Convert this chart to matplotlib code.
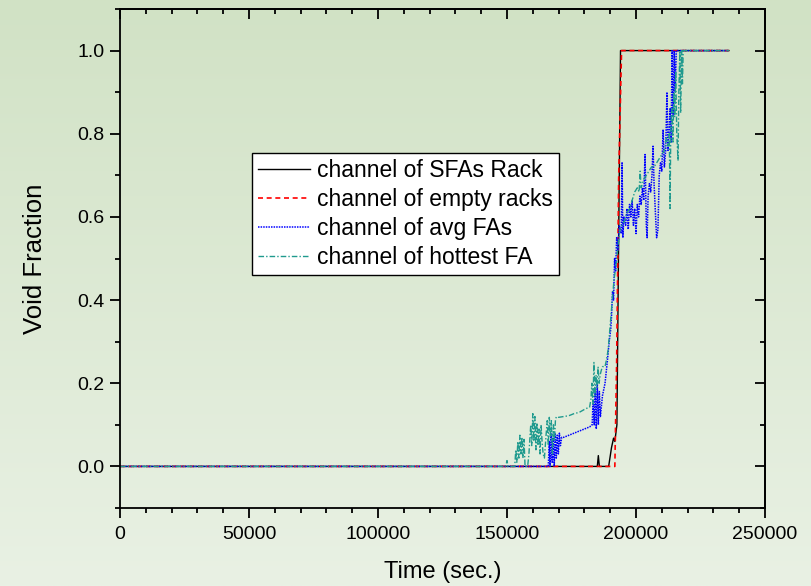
import numpy as np
import matplotlib
matplotlib.use("Agg")
import matplotlib.pyplot as plt
from matplotlib.ticker import MultipleLocator, FixedLocator, FormatStrFormatter

plt.rcParams['font.family'] = ['Liberation Sans', 'DejaVu Sans']

# ---- data ----
sfa_t = [0, 185000, 185400, 185800, 189400, 190500, 191300, 191800, 192600, 193200, 194000, 236000]
sfa_v = [0, 0, 0.026, 0, 0, 0.045, 0.068, 0.06, 0.10, 0.50, 1.0, 1.0]

empty_t = [0, 191800, 192500, 193300, 194400, 236000]
empty_v = [0, 0, 0.25, 0.70, 1.0, 1.0]

avg_t = [0, 166000, 166400, 166700, 167100, 167500, 167900, 168300, 168700, 169100, 169500,
         169900, 170300, 170700, 171200, 172000, 174000, 176000, 178000, 180000, 182000,
         183000, 183400, 183800, 184200, 184600, 185000, 185400, 185800, 186200, 187000,
         188000, 189000, 189600, 190200, 190500, 190900, 191300, 191700, 192100, 192500,
         193000, 193500, 194300, 194600, 194900, 195300, 196000, 196500, 197000, 197500,
         198000, 198500, 199000, 199500, 200000, 200500, 201000, 201500, 202000, 202500,
         203000, 203500, 204000, 204300, 204700, 205200, 205700, 206200, 206600, 207000,
         207600, 208000, 208500, 209000, 209500, 210000, 210500, 211000, 211500, 212000,
         212400, 212800, 213200, 213600, 214000, 214400, 214800, 215200, 215600, 236000]
avg_v = [0, 0, 0.06, 0, 0.08, 0.01, 0.07, 0, 0.08, 0.02, 0.075,
         0.03, 0.08, 0.05, 0.07, 0.07, 0.075, 0.08, 0.085, 0.09, 0.095,
         0.10, 0.16, 0.10, 0.19, 0.09, 0.20, 0.10, 0.18, 0.12, 0.17,
         0.20, 0.26, 0.30, 0.33, 0.36, 0.42, 0.40, 0.50, 0.47, 0.55,
         0.52, 0.58, 0.56, 0.73, 0.55, 0.60, 0.58, 0.62, 0.57, 0.63,
         0.60, 0.64, 0.58, 0.62, 0.56, 0.63, 0.60, 0.65, 0.63, 0.67,
         0.64, 0.75, 0.58, 0.55, 0.65, 0.68, 0.66, 0.70, 0.77, 0.68,
         0.60, 0.55, 0.57, 0.70, 0.73, 0.71, 0.81, 0.72, 0.76, 0.90,
         0.76, 0.80, 0.86, 0.78, 1.0, 0.84, 1.0, 0.90, 1.0, 1.0]

hot_t = [0, 149500, 150000, 150400, 153000, 153400, 153800, 154200, 154600, 155000, 155400,
         155800, 156200, 156600, 157000, 158000, 158500, 159200, 159600, 160000, 160400,
         160800, 161200, 161600, 162000, 162400, 162800, 163200, 163600, 164000, 164500,
         165200, 165600, 166000, 166400, 166800, 167200, 167600, 168000, 168400, 168800,
         169300, 170000, 172000, 174000, 176000, 178000, 180000, 181000, 182000, 182500,
         182900, 183300, 183700, 184100, 184500, 184900, 185300, 185700, 186100, 186500,
         187000, 188000, 188500, 189200, 190000, 190800, 191500, 192200, 193000, 193800,
         194500, 195500, 196500, 197500, 198500, 199500, 200500, 201200, 201600, 202000,
         203000, 204000, 205000, 206000, 207000, 208000, 209000, 210000, 211000, 211800,
         212400, 212900, 213200, 213500, 213900, 214300, 214700, 215000, 215400, 215800,
         216300, 216600, 217000, 217300, 217700, 218000, 218300, 236000]
hot_v = [0, 0, 0.014, 0, 0, 0.04, 0.01, 0.06, 0.02, 0.075, 0.03,
         0.07, 0.02, 0.065, 0, 0, 0.03, 0.10, 0.05, 0.127, 0.06,
         0.12, 0.04, 0.105, 0.05, 0.09, 0.03, 0.10, 0.06, 0.03, 0.02,
         0.08, 0.11, 0.05, 0.118, 0.07, 0.11, 0.03, 0.10, 0.06, 0.115,
         0.12, 0.118, 0.12, 0.122, 0.127, 0.13, 0.137, 0.14, 0.142, 0.16,
         0.20, 0.15, 0.25, 0.17, 0.22, 0.19, 0.24, 0.20, 0.22, 0.23,
         0.24, 0.24, 0.255, 0.28, 0.34, 0.40, 0.45, 0.48, 0.53, 0.57,
         0.58, 0.59, 0.61, 0.62, 0.64, 0.66, 0.67, 0.66, 0.71, 0.67,
         0.69, 0.70, 0.71, 0.72, 0.72, 0.73, 0.74, 0.75, 0.76, 0.79,
         0.77, 0.80, 0.62, 0.82, 0.86, 0.78, 0.90, 0.84, 0.95, 0.80,
         0.735, 0.90, 1.0, 0.85, 1.0, 0.92, 1.0, 1.0]

labels = ["channel of SFAs Rack", "channel of empty racks",
          "channel of avg FAs", "channel of hottest FA"]
x_ticks = [0, 50000, 100000, 150000, 200000, 250000]
y_ticks = [0.0, 0.2, 0.4, 0.6, 0.8, 1.0]

# ---- figure ----
W, H = 811, 586
fig = plt.figure(figsize=(W / 100, H / 100), dpi=100)

# gradient background
bg = fig.add_axes([0, 0, 1, 1], zorder=-10)
top = np.array([209, 226, 197]) / 255.0
bot = np.array([233, 241, 228]) / 255.0
g = np.linspace(0, 1, 256)[:, None, None]
grad = top * (1 - g) + bot * g
grad = np.repeat(grad, 2, axis=1)
bg.imshow(grad, aspect='auto', extent=[0, 1, 0, 1], origin='upper')
bg.set_axis_off()

left, right, topp, bottom = 120, 765, 9, 508
ax = fig.add_axes([left / W, 1 - bottom / H, (right - left) / W, (bottom - topp) / H])
ax.set_facecolor('none')

ax.plot(sfa_t, sfa_v, color='black', lw=1.0, ls='-', label=labels[0])
ax.plot(empty_t, empty_v, color='#ff0000', lw=1.2, ls=(0, (3, 2.2)), label=labels[1])
ax.plot(avg_t, avg_v, color='#0000ff', lw=1.1, ls=(0, (1, 0.7)), label=labels[2])
ax.plot(hot_t, hot_v, color='#1f9a8e', lw=1.0, ls=(0, (4, 1.5, 1, 1.5)), label=labels[3])

ax.set_xlim(0, 250000)
ax.set_ylim(-0.1, 1.1)
ax.xaxis.set_major_locator(FixedLocator(x_ticks))
ax.xaxis.set_minor_locator(MultipleLocator(10000))
ax.yaxis.set_major_locator(FixedLocator(y_ticks))
ax.yaxis.set_minor_locator(MultipleLocator(0.1))
ax.yaxis.set_major_formatter(FormatStrFormatter('%.1f'))
ax.xaxis.set_major_formatter(FormatStrFormatter('%d'))

for s in ax.spines.values():
    s.set_linewidth(1.3)
ax.tick_params(which='both', direction='out', width=1.3, labelsize=14, top=False, right=False)
ax.tick_params(which='major', length=7)
ax.tick_params(axis='x', which='major', pad=6)
ax.tick_params(axis='y', which='major', pad=4)
ax.tick_params(which='minor', length=3.8)

# mirrored inward ticks on top and right
secx = ax.secondary_xaxis('top')
secx.xaxis.set_major_locator(FixedLocator(x_ticks))
secx.xaxis.set_minor_locator(MultipleLocator(10000))
secx.tick_params(which='both', direction='in', width=1.3, labeltop=False)
secx.tick_params(which='major', length=7)
secx.tick_params(which='minor', length=3.8)
secx.spines['top'].set_linewidth(1.3)
secy = ax.secondary_yaxis('right')
secy.yaxis.set_major_locator(FixedLocator(y_ticks))
secy.yaxis.set_minor_locator(MultipleLocator(0.1))
secy.tick_params(which='both', direction='in', width=1.3, labelright=False)
secy.tick_params(which='major', length=7)
secy.tick_params(which='minor', length=3.8)
secy.spines['right'].set_linewidth(1.3)

ax.set_xlabel("Time (sec.)", fontsize=17, labelpad=13)
ax.set_ylabel("Void Fraction", fontsize=18.5, labelpad=22)

leg = ax.legend(loc='upper left', bbox_to_anchor=((252 - left) / (right - left), (bottom - 153) / (bottom - topp)),
                borderaxespad=0, fontsize=16.5, frameon=True, fancybox=False,
                edgecolor='black', framealpha=1, facecolor='white',
                handlelength=2.3, handletextpad=0.3, labelspacing=0.27, borderpad=0.25)
leg.get_frame().set_linewidth(1.0)

fig.savefig("out.png", dpi=100)
